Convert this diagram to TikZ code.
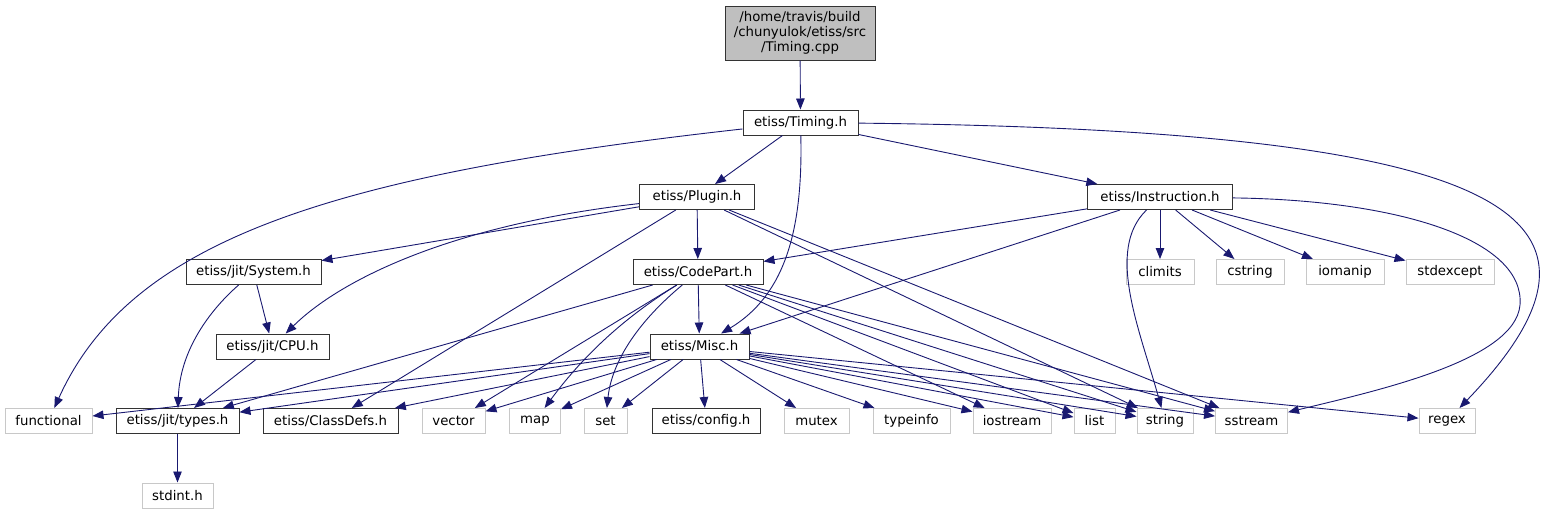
\documentclass[tikz,border=0pt]{standalone}
\usepackage{fontspec}
\setmainfont{DejaVu Sans}
\usetikzlibrary{arrows.meta}
\definecolor{edgeblue}{HTML}{191970}
\definecolor{boxgray}{HTML}{BFBFBF}
\definecolor{sysgray}{HTML}{C8C8C8}
\begin{document}
\begin{tikzpicture}[x=1pt,y=-1pt,
  hdr/.style={draw=black!80,line width=1pt,fill=white,minimum height=25pt,inner sep=0pt,font=\fontsize{13.3}{15}\selectfont},
  sys/.style={hdr,draw=sysgray},
  root/.style={hdr,fill=boxgray,align=center,minimum height=54pt},
  edge/.style={draw=edgeblue,line width=0.9pt,-{Triangle[length=11pt,width=8.5pt]}}]
\useasboundingbox (0,0) rectangle (1549,515);
% files
\node[root,minimum width=150pt] (cpp) at (800,33) {/home/travis/build\\/chunyulok/etiss/src\\/Timing.cpp};
\node[hdr,minimum width=115pt] (timing) at (800.5,122.5) {etiss/Timing.h};
\node[hdr,minimum width=115pt] (plugin) at (697,197) {etiss/Plugin.h};
\node[hdr,minimum width=145pt] (instr) at (1160,197) {etiss/Instruction.h};
\node[hdr,minimum width=135pt] (system) at (253.5,272) {etiss/jit/System.h};
\node[hdr,minimum width=130pt] (codepart) at (698,272) {etiss/CodePart.h};
\node[sys,minimum width=68pt] (climits) at (1160,272) {climits};
\node[sys,minimum width=68pt] (cstring) at (1250,272) {cstring};
\node[sys,minimum width=78pt] (iomanip) at (1345,272) {iomanip};
\node[sys,minimum width=88pt] (stdexcept) at (1450,272) {stdexcept};
\node[hdr,minimum width=113pt] (cpu) at (272.5,346.5) {etiss/jit/CPU.h};
\node[hdr,minimum width=99pt] (misc) at (699.5,346.5) {etiss/Misc.h};
\node[sys,minimum width=87pt] (functional) at (48.5,421) {functional};
\node[hdr,minimum width=123pt] (types) at (177.5,421) {etiss/jit/types.h};
\node[hdr,minimum width=135pt] (classdefs) at (330.5,421) {etiss/ClassDefs.h};
\node[sys,minimum width=63pt] (vector) at (453.5,421) {vector};
\node[sys,minimum width=51pt] (map) at (535,421) {map};
\node[sys,minimum width=43pt] (set) at (605.5,421) {set};
\node[hdr,minimum width=108pt] (config) at (706,421) {etiss/config.h};
\node[sys,minimum width=65pt] (mutex) at (816.5,421) {mutex};
\node[sys,minimum width=77pt] (typeinfo) at (911.5,421) {typeinfo};
\node[sys,minimum width=78pt] (iostream) at (1012,421) {iostream};
\node[sys,minimum width=41pt] (list) at (1094.5,421) {list};
\node[sys,minimum width=56pt] (string) at (1165,421) {string};
\node[sys,minimum width=72pt] (sstream) at (1251.5,421) {sstream};
\node[sys,minimum width=56pt] (regex) at (1447,421) {regex};
\node[sys,minimum width=71pt] (stdint) at (177.5,495.5) {stdint.h};
% includes
\draw[edge] (cpp) -- (timing);
\draw[edge] (timing) .. controls (330,175) and (130,240) .. (functional);
\draw[edge] (timing) -- (plugin);
\draw[edge] (timing) .. controls (803,230) and (785,295) .. (misc);
\draw[edge] (timing) -- (instr);
\draw[edge] (timing) .. controls (1500,130) and (1650,210) .. (regex);
\draw[edge] (plugin) -- (system);
\draw[edge] (plugin) .. controls (450,225) and (340,280) .. (cpu);
\draw[edge] (plugin) -- (codepart);
\draw[edge] (plugin) -- (classdefs);
\draw[edge] (plugin) -- (string);
\draw[edge] (plugin) -- (sstream);
\draw[edge] (instr) -- (codepart);
\draw[edge] (instr) -- (misc);
\draw[edge] (instr) -- (climits);
\draw[edge] (instr) -- (cstring);
\draw[edge] (instr) -- (iomanip);
\draw[edge] (instr) -- (stdexcept);
\draw[edge] (instr) .. controls (1105,250) and (1140,330) .. (string);
\draw[edge] (instr) .. controls (1400,200) and (1525,240) .. (1520,305)
            .. controls (1515,360) and (1380,390) .. (sstream);
\draw[edge] (system) -- (cpu);
\draw[edge] (system) .. controls (210,310) and (180,350) .. (types);
\draw[edge] (cpu) -- (types);
\draw[edge] (codepart) -- (misc);
\draw[edge] (codepart) -- (types);
\draw[edge] (codepart) -- (vector);
\draw[edge] (codepart) .. controls (620,320) and (580,360) .. (map);
\draw[edge] (codepart) .. controls (640,320) and (612,360) .. (set);
\draw[edge] (codepart) -- (iostream);
\draw[edge] (codepart) -- (list);
\draw[edge] (codepart) -- (string);
\draw[edge] (codepart) -- (sstream);
\foreach \dst in {functional,types,classdefs,vector,map,set,config,mutex,typeinfo,iostream,list,string,sstream,regex}
  \draw[edge] (misc) -- (\dst);
\draw[edge] (types) -- (stdint);
\end{tikzpicture}
\end{document}
